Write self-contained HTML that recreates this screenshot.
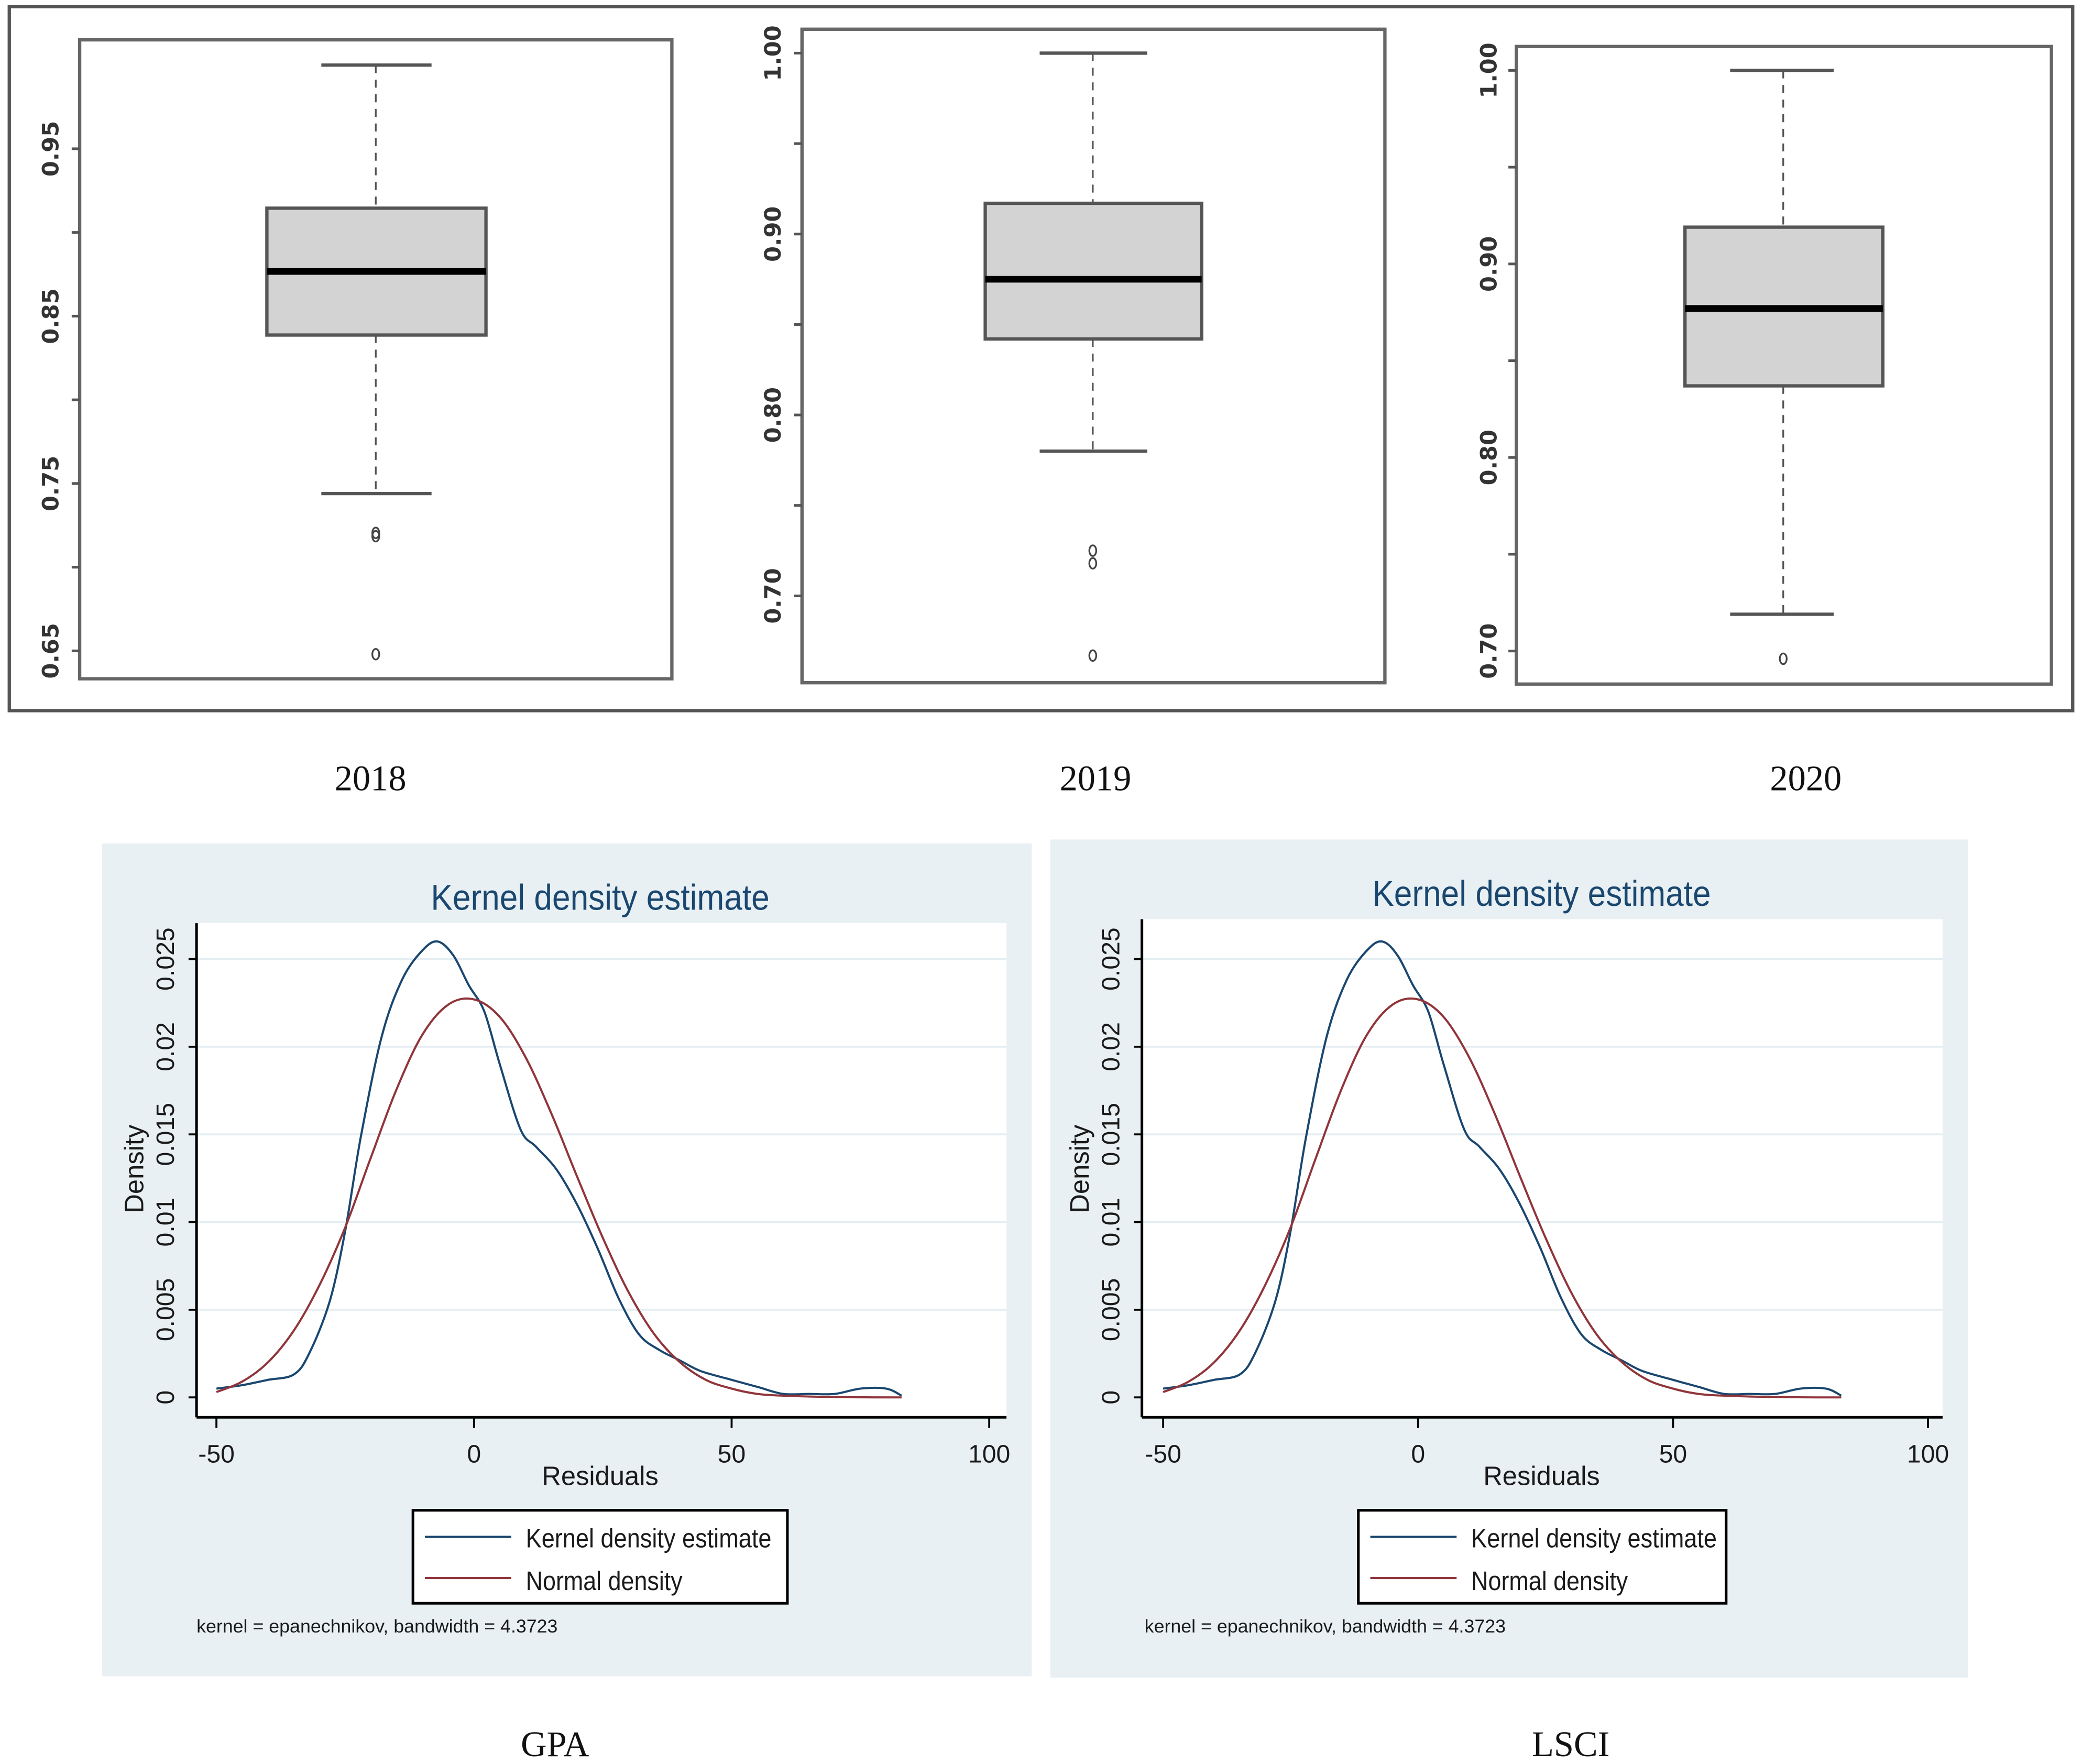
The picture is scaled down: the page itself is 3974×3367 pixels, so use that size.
<!DOCTYPE html>
<html><head><meta charset="utf-8"><style>
html,body{margin:0;padding:0;background:#fff;}
svg{display:block;}
.ax{font-family:"DejaVu Sans","Liberation Sans",sans-serif;font-size:17px;fill:#333;font-weight:bold;}
.st{font-family:"Liberation Sans",sans-serif;fill:#1a1a1a;}
.yr{font-family:"Liberation Serif",serif;font-size:27px;fill:#111;}
</style></head><body>
<svg id="root" width="3974" height="3367" viewBox="0 0 1568 1328" preserveAspectRatio="none" xmlns="http://www.w3.org/2000/svg">
<rect x="0" y="0" width="1568" height="1328" fill="#fff"/>
<rect x="7" y="5" width="1554" height="530" fill="none" stroke="#555" stroke-width="2.5"/>
<g id="boxes"></g>
<text class="yr" x="279" y="595" text-anchor="middle">2018</text>
<text class="yr" x="825" y="595" text-anchor="middle">2019</text>
<text class="yr" x="1360" y="595" text-anchor="middle">2020</text>
<g id="dens"></g>
<text class="yr" x="418" y="1322" text-anchor="middle">GPA</text>
<text class="yr" x="1183" y="1322" text-anchor="middle">LSCI</text>
</svg>
<script>
// Box plot data (per year)
const years = ["2018","2019","2020"];
const whiskerHigh = [1.0, 1.0, 1.0];
const q3 = [0.9145, 0.917, 0.919];
const medians = [0.8767, 0.875, 0.877];
const q1 = [0.8387, 0.842, 0.837];
const whiskerLow = [0.744, 0.780, 0.719];
const outliers = [[0.7205, 0.7185, 0.648], [0.725, 0.718, 0.667], [0.696]];
const yTickLabels = [["0.65","0.75","0.85","0.95"],["0.70","0.80","0.90","1.00"],["0.70","0.80","0.90","1.00"]];
const yMinorTicks = [[0.70,0.80,0.90],[0.75,0.85,0.95],[0.75,0.85,0.95]];

// Density data
const residualX = [-50,-45,-40,-35,-32,-28,-25,-22,-18,-14,-10,-7,-4,-1,2,5,9,12,16,20,24,28,32,36,40,44,50,55,60,65,70,75,80,83];
const kernelY = [0.0005,0.0007,0.001,0.0013,0.0025,0.0055,0.0095,0.0148,0.0205,0.0238,0.0255,0.026,0.0252,0.0235,0.022,0.019,0.0153,0.0143,0.013,0.011,0.0085,0.0057,0.0036,0.0027,0.0021,0.0015,0.001,0.0006,0.0002,0.0002,0.0002,0.0005,0.0005,0.0001];
const normalX = [-50,-45,-40,-35,-30,-25,-20,-15,-10,-5,0,5,10,15,20,25,30,35,40,45,50,55,60,70,83];
const normalY = [0.0003,0.0009,0.002,0.0038,0.0064,0.0097,0.0137,0.0176,0.0207,0.0224,0.0227,0.0217,0.0194,0.0162,0.0126,0.0091,0.006,0.0036,0.002,0.001,0.0005,0.0002,0.0001,0.00002,0.0];
const xTicks = ["-50","0","50","100"];
const yTicks = ["0","0.005","0.01","0.015","0.02","0.025"];

const NS="http://www.w3.org/2000/svg";
function mk(tag, attrs, parent, txt){const e=document.createElementNS(NS,tag);for(const k in attrs)e.setAttribute(k,attrs[k]);if(txt!==undefined)e.textContent=txt;parent.appendChild(e);return e;}
function smooth(pts){let d=`M${pts[0][0].toFixed(1)},${pts[0][1].toFixed(1)}`;
 for(let i=0;i<pts.length-1;i++){const p0=pts[i-1]||pts[i],p1=pts[i],p2=pts[i+1],p3=pts[i+2]||p2;
  const c1=[p1[0]+(p2[0]-p0[0])/6,p1[1]+(p2[1]-p0[1])/6],c2=[p2[0]-(p3[0]-p1[0])/6,p2[1]-(p3[1]-p1[1])/6];
  d+=` C${c1[0].toFixed(1)},${c1[1].toFixed(1)} ${c2[0].toFixed(1)},${c2[1].toFixed(1)} ${p2[0].toFixed(1)},${p2[1].toFixed(1)}`;}
 return d;}

const bp=[
 {x0:60,x1:506,y0:30,y1:511,vRef:0.95,yRef:112,ppu:1260,bx0:201,bx1:366,cx0:242,cx1:325,c:283,lx:44},
 {x0:604,x1:1043,y0:22,y1:514,vRef:1.0,yRef:40,ppu:1362,bx0:742,bx1:905,cx0:783,cx1:864,c:823,lx:588},
 {x0:1142,x1:1545,y0:35,y1:515,vRef:1.0,yRef:53,ppu:1457,bx0:1269,bx1:1418,cx0:1303,cx1:1381,c:1343,lx:1127}
];
const gb=document.getElementById('boxes');
years.forEach((yr,i)=>{
 const p=bp[i];const Y=v=>p.yRef+(p.vRef-v)*p.ppu;
 const g=mk('g',{},gb);
 
 
 const fr=mk('rect',{x:p.x0,y:p.y0,width:p.x1-p.x0,height:p.y1-p.y0,fill:'none',stroke:'#666','stroke-width':2.5},g);
 
 
 yTickLabels[i].forEach(l=>{const v=parseFloat(l);const y=Y(v);
  mk('line',{x1:p.x0-6,x2:p.x0,y1:y,y2:y,stroke:'#555','stroke-width':2},g);
  const t=mk('text',{class:'ax',x:p.lx,y:y,transform:`rotate(90 ${p.lx} ${y}) translate(0 0)`,'text-anchor':'middle'},g,l);
  t.setAttribute('transform',`rotate(-90 ${p.lx} ${y})`);
  
  
 });
 yMinorTicks[i].forEach(v=>{const y=Y(v);mk('line',{x1:p.x0-6,x2:p.x0,y1:y,y2:y,stroke:'#555','stroke-width':2},g);});
 mk('line',{x1:p.c,x2:p.c,y1:Y(whiskerHigh[i]),y2:Y(q3[i]),stroke:'#555','stroke-width':1.3,'stroke-dasharray':'6 5'},g);
 mk('line',{x1:p.c,x2:p.c,y1:Y(q1[i]),y2:Y(whiskerLow[i]),stroke:'#555','stroke-width':1.3,'stroke-dasharray':'6 5'},g);
 const b=mk('rect',{x:p.bx0,y:Y(q3[i]),width:p.bx1-p.bx0,height:Y(q1[i])-Y(q3[i]),fill:'#d3d3d3',stroke:'#555','stroke-width':2.5},g);
 
 
 const m=mk('line',{x1:p.bx0,x2:p.bx1,y1:Y(medians[i]),y2:Y(medians[i]),stroke:'#000','stroke-width':5},g);
 
 
 [whiskerHigh[i],whiskerLow[i]].forEach(v=>{const w=mk('line',{x1:p.cx0,x2:p.cx1,y1:Y(v),y2:Y(v),stroke:'#555','stroke-width':2.5},g);
  
  });
 outliers[i].forEach(v=>{const o=mk('ellipse',{cx:p.c,cy:Y(v),rx:2.6,ry:4,fill:'none',stroke:'#444','stroke-width':1.3},g);
  
  });
});

const dp=[
 {name:'gpa',bx:77,by:635,bw:700,bh:627,px0:148,px1:758,py0:695,py1:1067,x50:163,x0:357,tx:452,lgx:311,lgw:282,nx:148},
 {name:'lsci',bx:791,by:632,bw:691,bh:631,px0:860,px1:1463,py0:692,py1:1067,x50:876,x0:1068,tx:1161,lgx:1023,lgw:277,nx:862}
];
const gd=document.getElementById('dens');
dp.forEach(p=>{
 const sx=(p.x0-p.x50)/50;const X=v=>p.x0+v*sx;const Y=v=>1052-v*13200;
 const g=mk('g',{},gd);
 
 
 mk('rect',{x:p.bx,y:p.by,width:p.bw,height:p.bh,fill:'#e9f0f3'},g);
 mk('rect',{x:p.px0,y:p.py0,width:p.px1-p.px0,height:p.py1-p.py0,fill:'#fff'},g);
 const tt=mk('text',{x:p.tx,y:p.by+50,'text-anchor':'middle','font-family':'Liberation Sans Narrow, Liberation Sans, sans-serif','font-size':27,fill:'#1a476f',textLength:255,lengthAdjust:'spacingAndGlyphs'},g,'Kernel density estimate');
 
 
 yTicks.forEach(l=>{const y=Y(parseFloat(l));
  if(parseFloat(l)>0)mk('line',{x1:p.px0,x2:p.px1,y1:y,y2:y,stroke:'#e3edf2','stroke-width':1.5},g);
  mk('line',{x1:p.px0-6,x2:p.px0,y1:y,y2:y,stroke:'#000','stroke-width':1.5},g);
  const t=mk('text',{class:'st',x:p.px0-17,y:y,transform:`rotate(-90 ${p.px0-17} ${y})`,'text-anchor':'middle','font-size':19},g,l);
  
  
 });
 xTicks.forEach(l=>{const x=X(parseFloat(l));
  mk('line',{x1:x,x2:x,y1:p.py1,y2:p.py1+8,stroke:'#000','stroke-width':1.5},g);
  const t=mk('text',{class:'st',x:x,y:p.py1+34,'text-anchor':'middle','font-size':19},g,l);
  
  
 });
 mk('line',{x1:p.px0,x2:p.px0,y1:p.py0,y2:p.py1,stroke:'#000','stroke-width':2},g);
 mk('line',{x1:p.px0,x2:p.px1,y1:p.py1,y2:p.py1,stroke:'#000','stroke-width':2},g);
 const xl=mk('text',{class:'st',x:p.tx,y:1118,'text-anchor':'middle','font-size':20},g,'Residuals');
 
 
 const yl=mk('text',{class:'st',x:p.px0-40,y:880,transform:`rotate(-90 ${p.px0-40} 880)`,'text-anchor':'middle','font-size':20},g,'Density');
 
 
 const k=mk('path',{d:smooth(residualX.map((v,i)=>[X(v),Y(kernelY[i])])),fill:'none',stroke:'#1a476f','stroke-width':1.6,'stroke-linejoin':'round'},g);
 
 
 const n=mk('path',{d:smooth(normalX.map((v,i)=>[X(v),Y(normalY[i])])),fill:'none',stroke:'#90353b','stroke-width':1.6,'stroke-linejoin':'round'},g);
 
 
 const lg=mk('g',{},g);
 
 
 mk('rect',{x:p.lgx,y:1137,width:p.lgw,height:70,fill:'#fff',stroke:'#000','stroke-width':2},lg);
 mk('line',{x1:p.lgx+9,x2:p.lgx+74,y1:1157,y2:1157,stroke:'#1a476f','stroke-width':1.6},lg);
 mk('line',{x1:p.lgx+9,x2:p.lgx+74,y1:1188,y2:1188,stroke:'#90353b','stroke-width':1.6},lg);
 const e1=mk('text',{class:'st',x:p.lgx+85,y:1165,'font-size':20,textLength:185,lengthAdjust:'spacingAndGlyphs'},lg,'Kernel density estimate');
 
 
 const e2=mk('text',{class:'st',x:p.lgx+85,y:1197,'font-size':20,textLength:118,lengthAdjust:'spacingAndGlyphs'},lg,'Normal density');
 
 
 const nt=mk('text',{class:'st',x:p.nx,y:1229,'font-size':14,textLength:272,lengthAdjust:'spacingAndGlyphs'},g,'kernel = epanechnikov, bandwidth = 4.3723');
 
 
});
</script>
</body></html>
